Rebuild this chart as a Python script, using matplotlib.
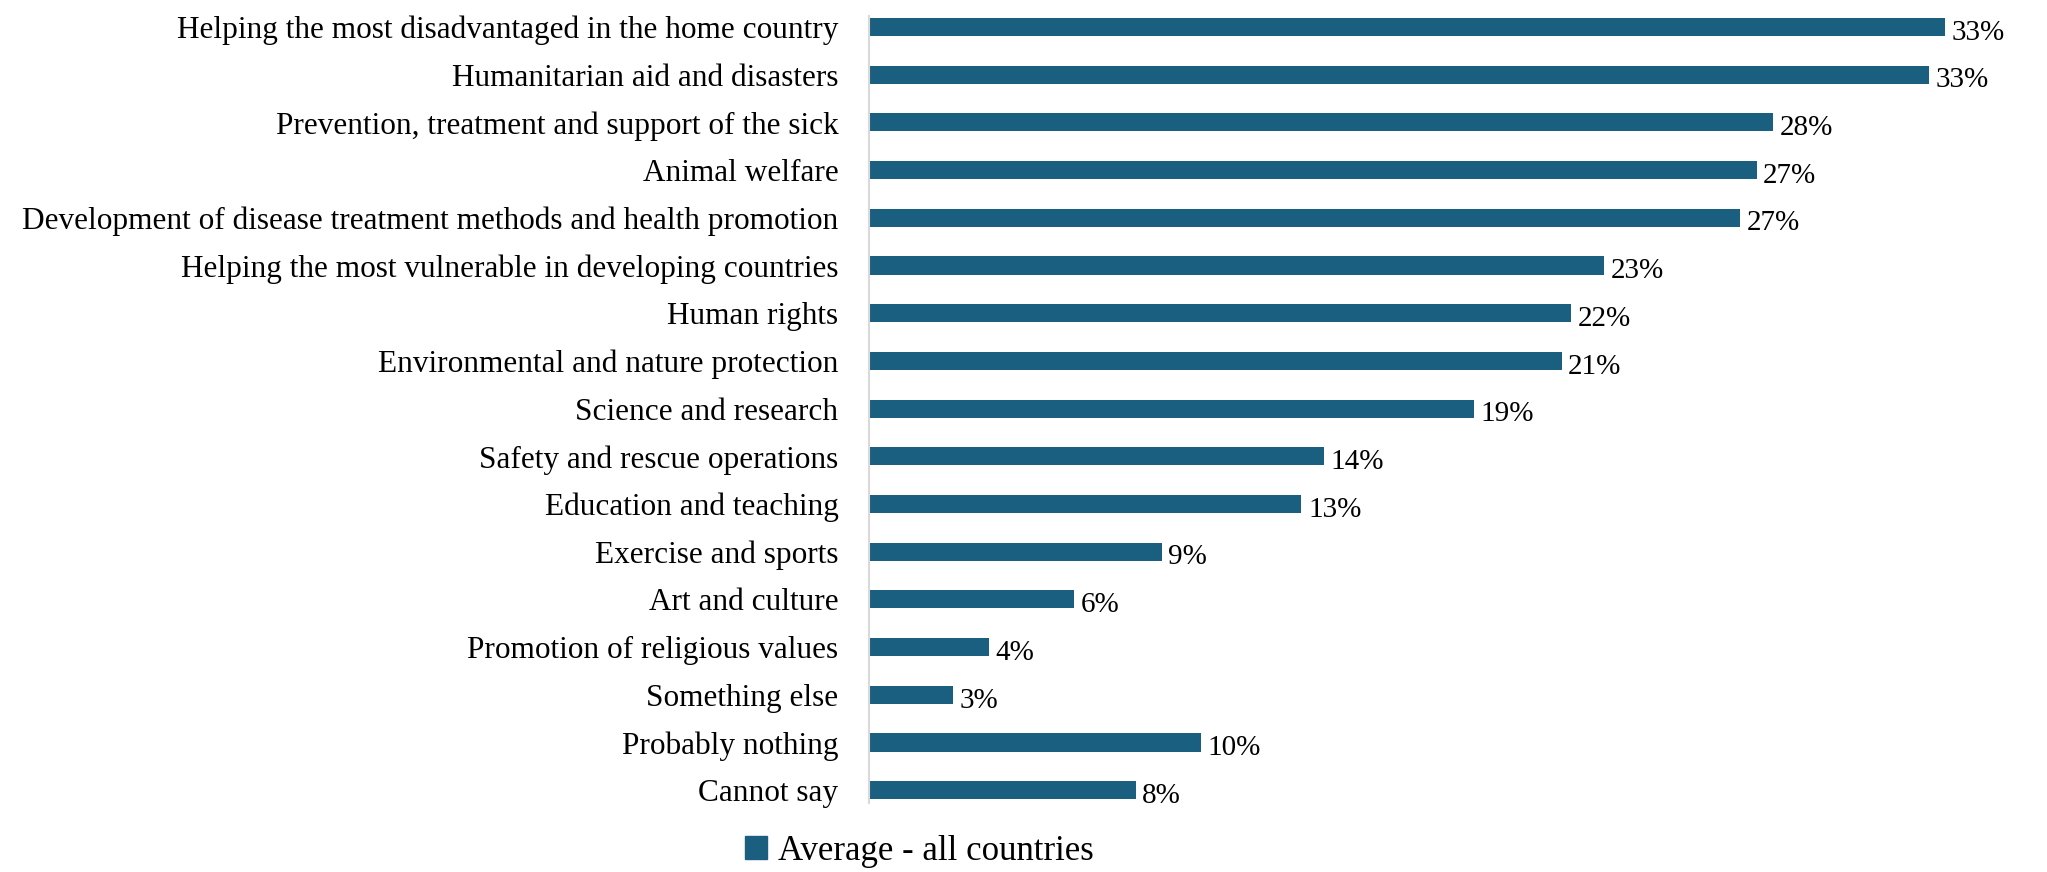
import matplotlib
matplotlib.use("Agg")
import matplotlib.pyplot as plt
from matplotlib.patches import Patch

# 支援したい分野（上から順）と全体平均の割合 [%]
categories = [
    "Helping the most disadvantaged in the home country",
    "Humanitarian aid and disasters",
    "Prevention, treatment and support of the sick",
    "Animal welfare",
    "Development of disease treatment methods and health promotion",
    "Helping the most vulnerable in developing countries",
    "Human rights",
    "Environmental and nature protection",
    "Science and research",
    "Safety and rescue operations",
    "Education and teaching",
    "Exercise and sports",
    "Art and culture",
    "Promotion of religious values",
    "Something else",
    "Probably nothing",
    "Cannot say",
]
average_all = [33.1, 32.6, 27.8, 27.3, 26.8, 22.6, 21.6, 21.3, 18.6,
               14.0, 13.3, 9.0, 6.3, 3.7, 2.6, 10.2, 8.2]
series_name = "Average - all countries"

bar_color = "#1a5f80"
plt.rcParams["font.family"] = ["Liberation Serif", "DejaVu Serif"]

fig = plt.figure(figsize=(20.47, 8.72), dpi=100)
ax = fig.add_axes([0.4245, 0.079, 0.556, 0.9027])

ypos = list(range(len(categories)))
ax.barh(ypos, average_all, height=0.38, color=bar_color)
ax.set_ylim(len(categories) - 1 + 0.27, -0.23)
ax.set_xlim(0, 35)

# 値ラベル（バー右端のすぐ外側）
for y, v in zip(ypos, average_all):
    ax.text(v + 0.2, y + 0.12, f"{v:.0f}%", va="center", ha="left", fontsize=21, color="black")

ax.set_yticks(ypos)
ax.set_yticklabels(categories, fontsize=22.5)
ax.tick_params(axis="y", length=0, pad=22)
ax.set_xticks([])
for side in ("top", "right", "bottom"):
    ax.spines[side].set_visible(False)
ax.spines["left"].set_color("#d9d9d9")
ax.spines["left"].set_linewidth(1.5)

fig.legend(handles=[Patch(color=bar_color)], labels=[series_name],
           loc="center", bbox_to_anchor=(0.449, 0.024), frameon=False,
           fontsize=25, handlelength=0.65, handleheight=0.65, handletextpad=0.3)

fig.savefig("out.png", dpi=100)
